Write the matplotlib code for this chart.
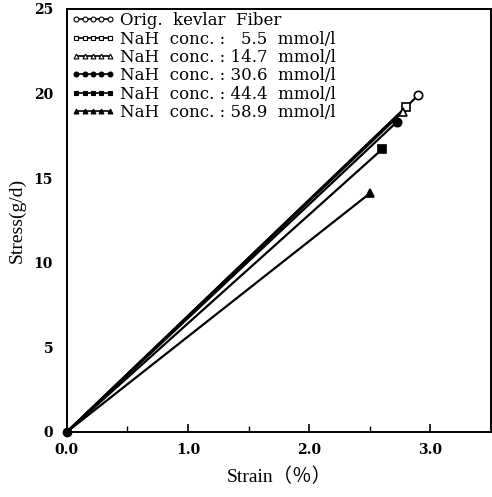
import matplotlib
matplotlib.use("Agg")
import matplotlib.pyplot as plt

labels = ["Orig.  kevlar  Fiber",
          "NaH  conc. :   5.5  mmol/l",
          "NaH  conc. : 14.7  mmol/l",
          "NaH  conc. : 30.6  mmol/l",
          "NaH  conc. : 44.4  mmol/l",
          "NaH  conc. : 58.9  mmol/l"]
end_strain = [2.90, 2.80, 2.77, 2.72, 2.60, 2.50]
end_stress = [19.9, 19.2, 18.9, 18.3, 16.7, 14.1]
markers = ["o", "s", "^", "o", "s", "^"]
filled = [False, False, False, True, True, True]
xticks = [0.0, 1.0, 2.0, 3.0]
xtick_labels = ["0.0", "1.0", "2.0", "3.0"]
yticks = [0, 5, 10, 15, 20, 25]

serif = ["DejaVu Serif", "Noto Sans CJK JP"]

fig = plt.figure(figsize=(4.92, 4.97), dpi=100)
ax = fig.add_axes([0.136, 0.131, 0.862, 0.851])

for lab, xs, ys, m, f in zip(labels, end_strain, end_stress, markers, filled):
    fc = "black" if f else "white"
    ax.plot([0, xs], [0, ys], color="black", lw=1.6, solid_capstyle="butt")
    ax.plot([xs], [ys], marker=m, ms=6, mfc=fc, mec="black", mew=1.2, ls="none")
    ax.plot([], [], color="black", lw=1.2, marker=m, ms=3.5, mfc=fc, mec="black",
            mew=0.8, label=lab)
ax.plot([0], [0], marker="o", ms=6, color="black", clip_on=False, zorder=5)

ax.set_xlim(0, 3.5)
ax.set_ylim(0, 25)
ax.set_xticks(xticks)
ax.set_xticklabels(xtick_labels)
ax.set_xticks([0.5, 1.5, 2.5], minor=True)
ax.set_yticks(yticks)
ax.tick_params(axis="x", which="major", direction="in", length=6, width=1.2, pad=8)
ax.tick_params(axis="x", which="minor", direction="in", length=4, width=1.0)
ax.tick_params(axis="y", direction="in", length=0, pad=10)
for t in ax.get_xticklabels() + ax.get_yticklabels():
    t.set_fontfamily("DejaVu Serif")
    t.set_fontweight("bold")
    t.set_fontsize(10)
for s in ax.spines.values():
    s.set_linewidth(1.4)

ax.set_xlabel("Strain（％）", fontfamily=["Liberation Serif", "Noto Sans CJK JP"],
              fontsize=14, labelpad=8)
ax.set_ylabel("Stress(g/d)", fontfamily=["Liberation Serif", "Noto Sans CJK JP"],
              fontsize=14, labelpad=6)

leg = ax.legend(loc="upper left", bbox_to_anchor=(-0.005, 1.008), frameon=False,
                numpoints=5, handlelength=2.6, handletextpad=0.3,
                labelspacing=0.08, borderaxespad=0.0,
                prop={"family": serif, "size": 12})

fig.savefig("out.png", dpi=100)
